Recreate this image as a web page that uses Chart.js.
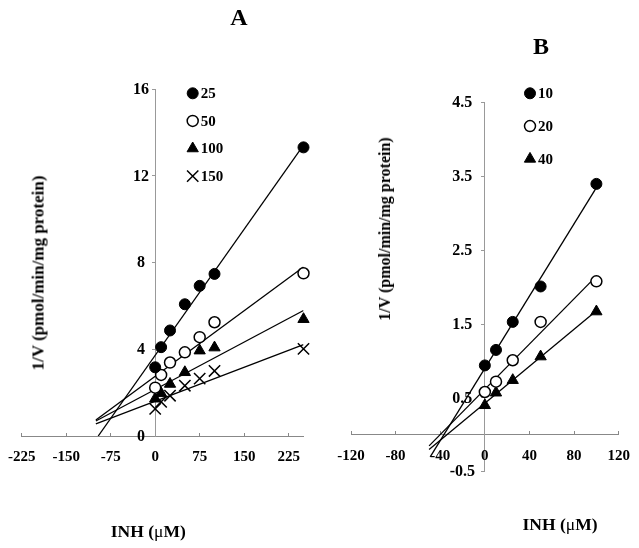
<!DOCTYPE html>
<html><head><meta charset="utf-8">
<script src="https://cdn.jsdelivr.net/npm/chart.js@4"></script>
<style>
html,body{margin:0;padding:0;background:#fff;}
body{width:639px;height:548px;position:relative;overflow:hidden;font-family:"Liberation Serif","Times New Roman",serif;font-weight:bold;color:#000;}
canvas{position:absolute;top:0;}
#ca{left:0;} #cb{left:330px;}
.t{position:absolute;white-space:nowrap;line-height:1;}
.mu{font-weight:normal;}
</style></head><body>
<canvas id="ca" width="330" height="548"></canvas>
<canvas id="cb" width="309" height="548"></canvas>
<div class="t" style="left:239px;top:5px;font-size:24px;transform:translateX(-50%);">A</div>
<div class="t" style="left:541px;top:34px;font-size:24px;transform:translateX(-50%);">B</div>
<div class="t" style="left:37.5px;top:273px;font-size:17px;transform:translate(-50%,-50%) rotate(-90deg);">1/V (pmol/min/mg protein)</div>
<div class="t" style="left:384.5px;top:229px;font-size:16px;transform:translate(-50%,-50%) rotate(-90deg);">1/V (pmol/min/mg protein)</div>
<div class="t" style="left:148.3px;top:522.5px;font-size:17.5px;transform:translateX(-50%);">INH (<span class="mu">μ</span>M)</div>
<div class="t" style="left:560px;top:515.5px;font-size:17.5px;transform:translateX(-50%);">INH (<span class="mu">μ</span>M)</div>
<script>
// ---------- Panel A data ----------
const inhA = [0, 10, 25, 50, 75, 100, 250];
const a25  = [3.17, 4.10, 4.87, 6.08, 6.93, 7.48, 13.32];
const a50  = [2.23, 2.82, 3.39, 3.86, 4.56, 5.25, 7.51];
const a100 = [1.72, 1.97, 2.40, 2.94, 3.94, 4.08, 5.39];
const a150 = [1.25, 1.58, 1.86, 2.32, 2.65, 3.00, 4.02];
const labelsA = ['25', '50', '100', '150'];
// trend lines (end points)
const trendA25  = [[-96, 0], [250, 13.42]];
const trendA50  = [[-100, 0.74], [250, 7.80]];
const trendA100 = [[-100, 0.69], [250, 5.79]];
const trendA150 = [[-100, 0.56], [250, 4.22]];
const ticksAx = [-225, 250, 75];  // min, max, step
const ticksAy = [0, 16, 4];

// ---------- Panel B data ----------
const inhB = [0, 10, 25, 50, 100];
const b10 = [0.94, 1.15, 1.53, 2.01, 3.40];
const b20 = [0.58, 0.72, 1.01, 1.53, 2.08];
const b40 = [0.40, 0.57, 0.74, 1.06, 1.67];
const labelsB = ['10', '20', '40'];
const trendB10 = [[-49, -0.30], [100, 3.35]];
const trendB20 = [[-50, -0.15], [100, 2.15]];
const trendB40 = [[-50, -0.20], [100, 1.68]];
const ticksBx = [-120, 120, 40];
const ticksBy = [-0.5, 4.5, 1];

// ---------- styles ----------
const FONT = "'Liberation Serif','Times New Roman',serif";
const STY = {
  filled:   {pointStyle: 'circle',   radius: 5.5, bg: '#000', bw: 1},
  open:     {pointStyle: 'circle',   radius: 5.5, bg: '#fff', bw: 1.5},
  triangle: {pointStyle: 'triangle', radius: 6.5, bg: '#000', bw: 1},
  cross:    {pointStyle: 'crossRot', radius: 8,   bg: '#000', bw: 1.5}
};

function lineDs(pts) {
  return {
    data: pts.map(p => ({x: p[0], y: p[1]})),
    showLine: true, borderColor: '#000', borderWidth: 1.3,
    pointRadius: 0, pointHoverRadius: 0, fill: false, order: 2
  };
}
function markDs(xs, ys, s) {
  return {
    data: xs.map((x, i) => ({x: x, y: ys[i]})),
    showLine: false, pointStyle: s.pointStyle, pointRadius: s.radius, pointHoverRadius: s.radius,
    backgroundColor: s.bg, borderColor: '#000', pointBorderWidth: s.bw, borderWidth: s.bw,
    clip: false, order: 1
  };
}
function legendPlugin(labels, styles, x, y0, dy, tx) {
  return {
    id: 'kLegend',
    afterDatasetsDraw(chart) {
      const ctx = chart.ctx;
      ctx.save();
      labels.forEach((lab, i) => {
        const s = styles[i];
        const y = y0 + i * dy;
        ctx.fillStyle = s.bg; ctx.strokeStyle = '#000'; ctx.lineWidth = s.bw;
        Chart.helpers.drawPoint(ctx, {pointStyle: s.pointStyle, radius: s.radius, borderWidth: s.bw, rotation: 0}, x, y);
        ctx.fillStyle = '#000';
        ctx.font = 'bold 15px ' + FONT;
        ctx.textAlign = 'left'; ctx.textBaseline = 'middle';
        ctx.fillText(lab, x + tx, y + 1);
      });
      ctx.restore();
    }
  };
}
// tick labels of both axes, placed from the library's scales:
// y labels centred a fixed distance left of the y axis (at x = 0),
// x labels centred under each tick, below the x axis (at y = 0)
function tickLabelPlugin(yOffset, xOffset) {
  return {
    id: 'tickLabels',
    beforeDatasetsDraw(chart) {
      const ctx = chart.ctx, ys = chart.scales.y, xs = chart.scales.x;
      const x0 = xs.getPixelForValue(0) - yOffset;
      const y0 = ys.getPixelForValue(0) + xOffset;
      ctx.save();
      ctx.fillStyle = '#000';
      ctx.textAlign = 'center'; ctx.textBaseline = 'middle';
      ctx.font = 'bold 16px ' + FONT;
      ys.ticks.forEach(t => ctx.fillText(t.label, x0, ys.getPixelForValue(t.value) + 0.5));
      ctx.font = 'bold 15px ' + FONT;
      xs.ticks.forEach(t => ctx.fillText(t.label, xs.getPixelForValue(t.value), y0));
      ctx.restore();
    }
  };
}
function axes(tx, ty) {
  return {
    x: {
      type: 'linear', position: {y: 0}, min: tx[0], max: tx[1],
      ticks: {stepSize: tx[2], includeBounds: false, display: false, autoSkip: false},
      grid: {drawOnChartArea: false, drawTicks: true, tickLength: -4, color: '#888'},
      border: {color: '#888', width: 1}
    },
    y: {
      type: 'linear', position: {x: 0}, min: ty[0], max: ty[1],
      ticks: {stepSize: ty[2], display: false, autoSkip: false},
      grid: {drawOnChartArea: false, drawTicks: true, tickLength: 3, color: '#999'},
      border: {color: '#999', width: 1, dash: [2, 2]}
    }
  };
}

new Chart(document.getElementById('ca'), {
  type: 'scatter',
  data: {datasets: [
    lineDs(trendA25), lineDs(trendA50), lineDs(trendA100), lineDs(trendA150),
    markDs(inhA, a25, STY.filled), markDs(inhA, a50, STY.open),
    markDs(inhA, a100, STY.triangle), markDs(inhA, a150, STY.cross)
  ]},
  options: {
    responsive: false, animation: false, events: [],
    layout: {padding: {left: 21.7, right: 26.5, top: 89.3, bottom: 112}},
    plugins: {legend: {display: false}, tooltip: {enabled: false}},
    scales: axes(ticksAx, ticksAy)
  },
  plugins: [tickLabelPlugin(14.3, 21), legendPlugin(labelsA, [STY.filled, STY.open, STY.triangle, STY.cross], 192.7, 93.3, 27.6, 8)]
});

new Chart(document.getElementById('cb'), {
  type: 'scatter',
  data: {datasets: [
    lineDs(trendB10), lineDs(trendB20), lineDs(trendB40),
    markDs(inhB, b10, STY.filled), markDs(inhB, b20, STY.open), markDs(inhB, b40, STY.triangle)
  ]},
  options: {
    responsive: false, animation: false, events: [],
    layout: {padding: {left: 21, right: 20.3, top: 102.7, bottom: 76.3}},
    plugins: {legend: {display: false}, tooltip: {enabled: false}},
    scales: axes(ticksBx, ticksBy)
  },
  plugins: [tickLabelPlugin(22.5, 21), legendPlugin(labelsB, [STY.filled, STY.open, STY.triangle], 200, 93.3, 32.8, 8)]
});
</script>
</body></html>
